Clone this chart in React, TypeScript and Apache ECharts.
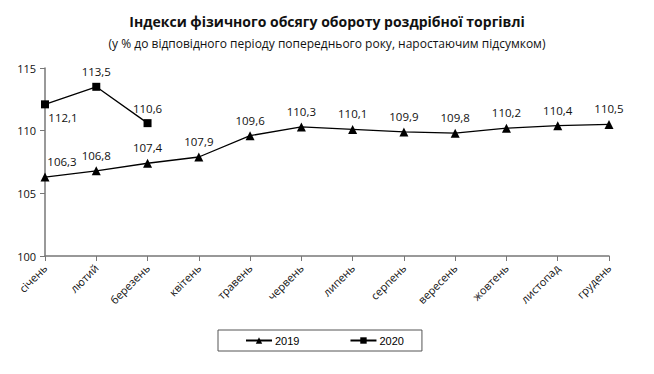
import React, { useEffect, useRef } from "react";
import * as echarts from "echarts";

const months = ["січень", "лютий", "березень", "квітень", "травень", "червень", "липень", "серпень", "вересень", "жовтень", "листопад", "грудень"];
const values2019 = [106.3, 106.8, 107.4, 107.9, 109.6, 110.3, 110.1, 109.9, 109.8, 110.2, 110.4, 110.5];
const values2020 = [112.1, 113.5, 110.6];
const yTicks = [100, 105, 110, 115];

const fmt = (v: number) => v.toFixed(1).replace(".", ",");
const FONT = "'Open Sans', 'Noto Sans', sans-serif";

export default function App() {
  const ref = useRef<HTMLDivElement>(null);
  useEffect(() => {
    if (!ref.current) return;
    const chart = echarts.init(ref.current, undefined, { renderer: "svg" });
    chart.setOption({
      animation: false,
      backgroundColor: "#fff",
      title: [
        {
          text: "Індекси фізичного обсягу обороту роздрібної торгівлі",
          left: "center",
          top: 9,
          textStyle: { fontFamily: FONT, fontSize: 14, fontWeight: "bold", color: "#111" },
        },
        {
          text: "(у % до відповідного періоду попереднього року, наростаючим підсумком)",
          left: "center",
          top: 32,
          textStyle: { fontFamily: FONT, fontSize: 12, fontWeight: "normal", color: "#111" },
        },
      ],
      legend: {
        left: 218,
        top: 330,
        itemGap: 50,
        itemWidth: 26,
        itemHeight: 8,
        padding: [5, 18, 5, 27],
        borderColor: "#555",
        borderWidth: 1,
        textStyle: { fontFamily: "'Liberation Sans', Arial, sans-serif", fontSize: 11, color: "#000", padding: [0, 0, 0, -2] },
        data: ["2019", "2020"],
      },
      grid: { left: 45, right: 45, top: 68, bottom: 118, containLabel: false },
      xAxis: {
        type: "category",
        data: months,
        boundaryGap: false,
        axisLine: { lineStyle: { color: "#777", width: 1.5 } },
        axisTick: { show: true, alignWithLabel: true, length: 5, lineStyle: { color: "#777" } },
        axisLabel: {
          rotate: 45,
          interval: 0,
          margin: 10,
          fontFamily: FONT,
          fontSize: 11,
          color: "#111",
        },
      },
      yAxis: {
        type: "value",
        min: yTicks[0],
        max: yTicks[yTicks.length - 1],
        interval: 5,
        axisLine: { show: true, lineStyle: { color: "#777", width: 1.5 } },
        axisTick: { show: true, length: 5, lineStyle: { color: "#777" } },
        splitLine: { show: false },
        axisLabel: { fontFamily: FONT, fontSize: 11, color: "#111", margin: 9 },
      },
      series: [
        {
          name: "2019",
          type: "line",
          data: values2019.map((v, i) => ({
            value: v,
            label: i === 0 ? { offset: [17, 0] } : {},
          })),
          symbol: "triangle",
          symbolSize: 9,
          lineStyle: { color: "#000", width: 1.3 },
          itemStyle: { color: "#000" },
          label: {
            show: true,
            position: "top",
            distance: 5,
            formatter: (p: any) => fmt(p.value),
            fontFamily: FONT,
            fontSize: 11.5,
            color: "#111",
          },
        },
        {
          name: "2020",
          type: "line",
          data: values2020.map((v, i) => ({
            value: v,
            label: i === 0 ? { position: "bottom", offset: [18, -2] } : {},
          })),
          symbol: "rect",
          symbolSize: 8,
          lineStyle: { color: "#000", width: 1.3 },
          itemStyle: { color: "#000" },
          label: {
            show: true,
            position: "top",
            distance: 5,
            formatter: (p: any) => fmt(p.value),
            fontFamily: FONT,
            fontSize: 11.5,
            color: "#111",
          },
        },
      ],
    });
    return () => chart.dispose();
  }, []);
  return <div ref={ref} style={{ width: 654, height: 374, position: "absolute", left: 0, top: 0 }} />;
}
